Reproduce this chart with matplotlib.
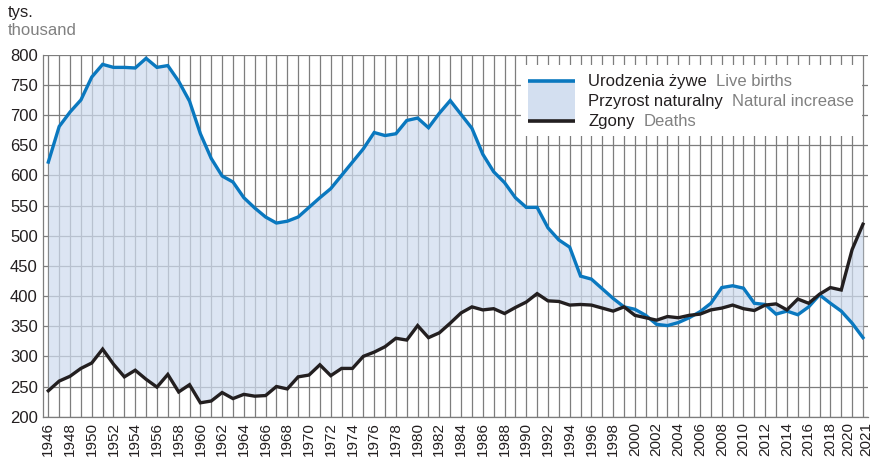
import matplotlib
matplotlib.use("Agg")
import matplotlib.pyplot as plt
import matplotlib.transforms as mtransforms
from matplotlib.patches import Rectangle
from matplotlib.lines import Line2D

plt.rcParams['font.family'] = ['Liberation Sans', 'DejaVu Sans']

years = list(range(1946, 2022))
births = [622, 681, 705, 725, 763, 784, 779, 779, 778, 794,
          779, 782, 756, 723, 669, 628, 599, 589, 563, 546,
          531, 521, 524, 531, 547, 563, 578, 600, 622, 644,
          671, 666, 669, 691, 695, 679, 703, 724, 701, 678,
          635, 606, 588, 563, 547, 547, 513, 493, 481, 433,
          428, 412, 396, 382, 378, 368, 353, 351, 356, 364,
          374, 388, 414, 417, 413, 388, 386, 370, 375, 369,
          382, 402, 388, 375, 355, 331]
deaths = [243, 259, 267, 280, 289, 312, 287, 266, 277, 262,
          249, 270, 241, 253, 223, 226, 240, 230, 237, 234,
          235, 250, 246, 266, 269, 286, 268, 280, 280, 300,
          307, 316, 330, 327, 351, 331, 339, 355, 372, 382,
          377, 379, 371, 381, 390, 404, 392, 391, 385, 386,
          385, 380, 375, 382, 368, 364, 360, 366, 364, 368,
          370, 377, 380, 385, 379, 376, 385, 387, 377, 395,
          388, 403, 414, 410, 477, 519]
year_labels = [str(y) if (y % 2 == 0 or y == 2021) else '' for y in years]
yticks = list(range(200, 801, 50))

BLUE = '#0a78bf'
BLACK = '#231f20'
GRAY = '#808080'
GRID = '#7d7d7d'
FILL = '#cfdcef'

fig = plt.figure(figsize=(8.77, 4.59), dpi=100)
ax = fig.add_axes([0.0494, 0.0922, 0.9403, 0.7886])

ax.set_xlim(1945.54, 2021.46)
ax.set_ylim(200, 800)
ax.set_xticks(years)
ax.set_xticklabels(year_labels, rotation=90, fontsize=11, color=BLACK)
ax.set_yticks(yticks)
ax.set_yticklabels([str(v) for v in yticks], fontsize=12, color=BLACK)
ax.tick_params(axis='both', length=0, pad=4)
ax.set_axisbelow(True)
ax.grid(True, color=GRID, linewidth=0.9)
for s in ['top', 'right']:
    ax.spines[s].set_visible(False)
for s in ['left', 'bottom']:
    ax.spines[s].set_color(GRID)
    ax.spines[s].set_linewidth(0.9)

# nudge the two adjacent last labels apart so they don't collide
xlabels = ax.get_xticklabels()
for idx, dx in ((len(years) - 2, -3.4), (len(years) - 1, 3.4)):
    lab = xlabels[idx]
    lab.set_transform(lab.get_transform() +
                      mtransforms.ScaledTranslation(dx / 100, 0, fig.dpi_scale_trans))

ax.fill_between(years, deaths, births, color=FILL, alpha=0.72, linewidth=0, zorder=2)
ax.plot(years, births, color=BLUE, linewidth=2.4, zorder=4, solid_joinstyle='miter')
ax.plot(years, deaths, color=BLACK, linewidth=2.4, zorder=4, solid_joinstyle='miter')

# legend box
ax.add_patch(Rectangle((0.579, 0.7754), 0.9927 - 0.579, 0.9715 - 0.7754,
                       transform=ax.transAxes, facecolor='white', edgecolor='none', zorder=5))
ax.add_patch(Rectangle((0.5873, 0.8168), 0.6447 - 0.5873, 0.9273 - 0.8168,
                       transform=ax.transAxes, facecolor='#d3dff0', edgecolor='none', zorder=6))
ax.add_line(Line2D([0.5873, 0.6447], [0.9273, 0.9273], transform=ax.transAxes,
                   color=BLUE, linewidth=2.6, zorder=7, solid_capstyle='butt'))
ax.add_line(Line2D([0.5873, 0.6447], [0.8168, 0.8168], transform=ax.transAxes,
                   color=BLACK, linewidth=2.6, zorder=7, solid_capstyle='butt'))

rows = [("Urodzenia żywe", "Live births", 0.925),
        ("Przyrost naturalny", "Natural increase", 0.8698),
        ("Zgony", "Deaths", 0.8145)]
for pl, en, yy in rows:
    t = ax.text(0.661, yy, pl, transform=ax.transAxes, fontsize=12, color=BLACK,
                va='center', ha='left', zorder=8)
    ax.annotate(en, xy=(1, 0), xycoords=t, xytext=(9, 0), textcoords='offset pixels',
                fontsize=12, color=GRAY, va='bottom', ha='left', zorder=8)

fig.text(8 / 877, 1 - 17 / 459, "tys.", fontsize=12, color=BLACK, va='baseline', ha='left')
fig.text(8 / 877, 1 - 35 / 459, "thousand", fontsize=12, color=GRAY, va='baseline', ha='left')

fig.savefig("out.png", dpi=100)
